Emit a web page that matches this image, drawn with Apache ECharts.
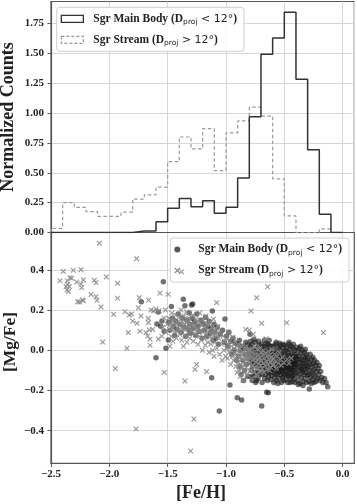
<!DOCTYPE html>
<html><head><meta charset="utf-8">
<script src="https://cdn.jsdelivr.net/npm/echarts@6/dist/echarts.min.js"></script>
<style>html,body{margin:0;padding:0;background:#fff}#c{width:357px;height:504px}</style>
</head><body><div id="c"></div>
<script>
// ---------- data ----------
const binEdges = [-2.5,-2.4,-2.3,-2.2,-2.1,-2.0,-1.9,-1.8,-1.7,-1.6,-1.5,-1.4,-1.3,-1.2,-1.1,-1.0,-0.9,-0.8,-0.7,-0.6,-0.5,-0.4,-0.3,-0.2,-0.1,0.0];
const mainBodyCounts = [0,0,0,0,0,0,0,0.012,0.012,0.09,0.204,0.285,0.215,0.265,0.161,0.212,0.456,0.97,1.494,1.629,1.845,1.284,0.694,0.153,0.0];
const streamCounts = [0.035,0.25,0.21,0.175,0.135,0.135,0.17,0.28,0.316,0.38,0.593,0.80,0.70,0.87,0.518,0.835,0.935,1.05,0.975,0.45,0.139,0,0,0.03,0];
const xTicks = [-2.5,-2.0,-1.5,-1.0,-0.5,0.0];
const histYTicks = [0,0.25,0.5,0.75,1.0,1.25,1.5,1.75];
const scatterYTicks = [-0.4,-0.2,0.0,0.2,0.4];
const legendMain = 'Sgr Main Body';
const legendStream = 'Sgr Stream';

const streamStars = [
[-2.423,0.346],[-2.394,0.393],[-2.371,0.317],[-2.363,0.30],[-2.357,0.328],[-2.343,0.317],[-2.337,0.361],[-2.351,0.292],[-2.36,0.345],[-2.323,0.358],
[-2.309,0.398],[-2.28,0.34],[-2.271,0.242],[-2.257,0.24],[-2.243,0.401],[-2.243,0.33],[-2.237,0.312],[-2.223,0.35],[-2.23,0.25],[-2.223,0.247],
[-2.157,0.278],[-2.129,0.348],[-2.114,0.337],[-2.114,0.267],[-2.106,0.249],[-2.086,0.532],[-2.071,0.216],[-2.057,0.041],[-2.026,0.365],
[-1.963,0.179],[-1.949,-0.091],[-1.929,0.333],[-1.929,0.259],[-1.866,0.192],
[-1.849,0.010],[-1.837,0.088],[-1.829,0.176],[-1.81,0.18],[-1.80,0.146],[-1.771,-0.390],[-1.766,0.456],[-1.763,0.134],[-1.751,0.212],[-1.743,0.262],
[-1.737,0.095],[-1.729,0.171],[-1.686,0.088],[-1.671,0.071],[-1.666,0.159],[-1.666,0.138],[-1.663,0.249],[-1.657,0.101],[-1.651,0.055],[-1.651,0.025],
[-1.643,0.20],[-1.629,0.104],[-1.62,0.195],[-1.60,0.205],[-1.566,0.284],[-1.58,0.056],[-1.572,0.197],[-1.55,0.07],[-1.529,-0.11],[-1.54,0.115],
[-1.53,0.16],[-1.52,0.2],[-1.515,0.09],[-1.505,0.13],
[-1.495,0.279],[-1.49,0.16],[-1.485,0.105],[-1.48,0.02],[-1.475,0.13],[-1.47,0.07],[-1.465,0.185],[-1.46,0.11],[-1.455,0.045],[-1.45,0.15],
[-1.44,0.09],[-1.435,0.12],[-1.43,0.175],[-1.425,0.06],[-1.415,0.14],[-1.405,0.1],
[-1.398,0.165],[-1.395,0.08],[-1.39,0.125],[-1.385,0.2],[-1.38,0.391],[-1.38,0.05],[-1.375,0.145],[-1.37,0.105],[-1.365,0.02],[-1.36,0.17],
[-1.355,0.13],[-1.352,-0.153],[-1.35,0.075],[-1.345,0.11],[-1.34,0.19],[-1.335,0.04],[-1.33,0.14],[-1.325,0.09],[-1.32,0.16],[-1.315,0.115],
[-1.31,0.06],[-1.303,-0.501],
[-1.298,0.13],[-1.29,0.095],[-1.285,0.175],[-1.28,0.045],[-1.275,-0.342],[-1.27,0.12],[-1.266,-0.095],[-1.262,0.08],[-1.255,0.155],[-1.252,-0.07],
[-1.248,0.105],[-1.24,0.03],[-1.235,0.14],[-1.23,0.07],[-1.225,0.185],[-1.218,0.1],[-1.212,0.05],[-1.207,0.125],[-1.202,0.0],
[-1.198,0.09],[-1.193,0.15],[-1.188,0.06],[-1.183,0.115],[-1.178,0.025],[-1.172,0.17],[-1.168,0.08],[-1.166,-0.106],[-1.16,0.13],[-1.155,0.04],
[-1.15,0.1],[-1.145,-0.01],[-1.14,0.065],[-1.135,0.14],[-1.13,0.03],[-1.125,0.09],[-1.12,0.115],[-1.115,0.0],[-1.11,0.055],[-1.107,0.155],
[-1.104,0.075],[-1.102,-0.03],[-1.1,0.1],
[-1.095,0.04],[-1.09,0.08],[-1.08,0.237],[-1.078,0.01],[-1.07,0.12],[-1.063,0.06],[-1.055,-0.02],[-1.048,0.09],[-1.04,0.03],[-1.033,-0.05],
[-1.025,0.07],[-1.018,0.0],[-1.01,0.045],[-1.003,-0.03],
[-0.998,0.06],[-0.993,0.01],[-0.988,-0.04],[-0.982,0.03],[-0.977,0.085],[-0.972,-0.01],[-0.966,0.045],[-0.96,-0.07],[-0.955,0.0],[-0.95,0.02],
[-0.945,-0.03],[-0.94,0.065],[-0.935,-0.05],[-0.93,0.01],[-0.925,-0.015],[-0.92,0.04],[-0.915,-0.08],[-0.91,-0.02],[-0.905,0.02],[-0.903,-0.11],
[-0.902,-0.045],[-0.9,0.0],
[-0.897,-0.06],[-0.893,0.03],[-0.89,-0.1],[-0.886,-0.03],[-0.882,0.005],[-0.878,-0.13],[-0.874,-0.07],[-0.87,-0.02],[-0.866,0.02],[-0.862,-0.09],
[-0.858,-0.045],[-0.854,-0.15],[-0.85,-0.01],[-0.846,-0.07],[-0.842,-0.11],[-0.838,0.015],[-0.834,-0.04],[-0.829,0.104],[-0.826,-0.085],[-0.822,-0.02],
[-0.818,-0.12],[-0.814,-0.055],[-0.81,0.0],[-0.806,-0.035],[-0.80,0.101],
[-0.797,-0.06],[-0.794,0.0],[-0.79,-0.1],[-0.786,0.196],[-0.783,-0.03],[-0.78,-0.14],[-0.776,-0.075],[-0.772,-0.01],[-0.768,-0.05],[-0.766,0.08],
[-0.762,-0.11],[-0.758,0.02],[-0.754,-0.04],[-0.75,-0.085],[-0.746,-0.02],[-0.742,-0.06],[-0.737,0.262],[-0.735,-0.12],[-0.732,0.005],[-0.728,-0.045],
[-0.724,-0.09],[-0.72,-0.025],[-0.716,-0.065],[-0.712,0.01],[-0.708,-0.105],[-0.705,-0.04],[-0.702,-0.075],[-0.70,-0.01],
[-0.697,-0.05],[-0.694,0.134],[-0.69,-0.09],[-0.686,-0.02],[-0.682,-0.065],[-0.678,0.0],[-0.674,-0.11],[-0.67,-0.04],[-0.666,-0.075],[-0.662,-0.015],
[-0.657,0.058],[-0.654,-0.055],[-0.65,-0.095],[-0.646,-0.03],[-0.643,0.316],[-0.64,-0.07],[-0.636,-0.005],[-0.632,-0.045],[-0.628,-0.1],[-0.624,-0.025],
[-0.62,-0.06],[-0.616,-0.085],[-0.612,-0.035],[-0.608,0.005],[-0.604,-0.05],[-0.60,-0.075],
[-0.595,-0.04],[-0.59,-0.07],[-0.583,-0.02],[-0.576,-0.055],[-0.568,-0.09],[-0.56,-0.03],[-0.552,-0.065],[-0.544,-0.01],[-0.536,-0.045],[-0.525,-0.075],
[-0.515,-0.035],[-0.505,-0.06],
[-0.48,0.137],[-0.475,-0.045],[-0.46,-0.065],[-0.44,-0.04],
[-0.165,0.088]
];

const mainBodyStars = [
[-1.726,0.241],[-1.60,-0.037],[-1.592,0.131],[-1.58,0.191],[-1.56,0.12],[-1.549,0.146],[-1.537,0.341],[-1.53,0.095],[-1.515,0.01],
[-1.494,0.051],[-1.468,0.218],[-1.49,0.14],[-1.48,0.1],[-1.46,0.16],[-1.45,0.12],[-1.44,0.075],[-1.43,0.145],[-1.42,0.105],[-1.41,0.18],
[-1.395,0.13],[-1.385,0.09],[-1.375,0.16],[-1.366,0.254],[-1.36,0.115],[-1.352,0.222],[-1.345,0.07],[-1.335,0.15],[-1.325,0.105],[-1.315,0.185],
[-1.31,0.13],[-1.305,0.085],
[-1.295,0.225],[-1.286,0.23],[-1.29,0.16],[-1.28,0.11],[-1.27,0.14],[-1.26,0.075],[-1.25,0.18],[-1.24,0.12],[-1.23,0.095],[-1.215,0.15],[-1.205,0.06],
[-1.195,0.13],[-1.185,0.1],[-1.175,0.165],[-1.165,0.07],[-1.155,0.12],[-1.145,0.145],[-1.135,0.085],[-1.123,-0.136],[-1.125,0.11],[-1.117,0.195],
[-1.11,0.05],[-1.102,0.13],
[-1.095,0.09],[-1.085,0.06],[-1.075,0.115],[-1.065,0.03],[-1.057,-0.302],[-1.05,0.08],[-1.03,0.1],[-1.009,0.156],[-1.015,0.04],
[-0.995,0.07],[-0.985,0.02],[-0.975,0.09],[-0.966,-0.173],[-0.96,0.045],[-0.95,-0.02],[-0.94,0.06],[-0.93,0.0],[-0.92,0.035],[-0.91,-0.05],
[-0.903,-0.236],[-0.895,0.03],[-0.89,-0.03],[-0.885,0.05],[-0.88,-0.08],[-0.875,0.0],[-0.87,-0.12],[-0.866,-0.247],[-0.862,0.02],[-0.855,-0.05],
[-0.85,-0.15],[-0.845,0.01],[-0.84,-0.1],[-0.835,-0.02],[-0.83,0.04],[-0.825,-0.07],[-0.817,0.026],[-0.815,-0.13],[-0.81,-0.04],[-0.805,0.0],
[-0.798,-0.02],[-0.794,0.08],[-0.79,-0.06],[-0.787,0.02],[-0.783,-0.1],[-0.78,-0.04],[-0.776,0.03],[-0.772,-0.08],[-0.768,-0.13],[-0.766,-0.024],
[-0.762,0.0],[-0.758,-0.055],[-0.754,-0.11],[-0.75,0.04],[-0.746,-0.03],[-0.742,-0.075],[-0.738,-0.15],[-0.734,0.01],[-0.73,-0.045],[-0.726,-0.095],
[-0.722,-0.02],[-0.718,0.025],[-0.714,-0.065],[-0.71,-0.12],[-0.707,-0.035],[-0.704,0.0],[-0.701,-0.085],[-0.745,-0.16],[-0.775,-0.15],[-0.79,0.045],
[-0.76,0.055],[-0.72,0.045],[-0.735,-0.06],[-0.755,-0.01],[-0.715,-0.005],[-0.785,-0.13],[-0.77,-0.055],[-0.74,-0.115],[-0.725,-0.14],[-0.705,-0.055],
[-0.694,-0.277],[-0.698,-0.03],[-0.695,0.03],[-0.692,-0.08],[-0.689,-0.12],[-0.686,0.0],[-0.683,-0.05],[-0.68,-0.1],[-0.677,0.02],[-0.674,-0.025],
[-0.671,-0.07],[-0.668,-0.14],[-0.665,-0.005],[-0.662,-0.045],[-0.659,-0.09],[-0.656,0.035],[-0.653,-0.015],[-0.651,-0.209],[-0.65,-0.06],[-0.647,-0.11],
[-0.644,0.01],[-0.641,-0.035],[-0.638,-0.08],[-0.637,-0.211],[-0.635,-0.13],[-0.632,0.025],[-0.629,-0.02],[-0.626,-0.065],[-0.623,-0.1],[-0.62,0.0],
[-0.617,-0.04],[-0.614,-0.085],[-0.611,-0.125],[-0.608,0.02],[-0.605,-0.055],[-0.602,-0.015],[-0.69,-0.16],[-0.67,0.05],[-0.66,-0.12],[-0.645,-0.15],
[-0.63,0.05],[-0.615,-0.145],[-0.675,-0.045],[-0.655,0.0],[-0.64,-0.1],[-0.625,-0.03],[-0.61,-0.07],[-0.685,-0.065],[-0.665,-0.085],[-0.62,-0.11],
[-0.6,-0.095],[-0.635,-0.05],[-0.68,0.015],[-0.64,0.03],[-0.66,-0.03],
[-0.598,-0.03],[-0.596,0.02],[-0.594,-0.07],[-0.592,-0.11],[-0.59,-0.045],[-0.588,0.0],[-0.585,-0.09],[-0.583,-0.135],[-0.58,-0.02],[-0.578,-0.06],
[-0.575,0.03],[-0.573,-0.1],[-0.57,-0.04],[-0.568,-0.15],[-0.565,-0.075],[-0.562,-0.01],[-0.56,-0.12],[-0.557,-0.05],[-0.555,0.015],[-0.552,-0.09],
[-0.55,-0.03],[-0.547,-0.065],[-0.545,-0.14],[-0.542,0.005],[-0.54,-0.105],[-0.537,-0.04],[-0.535,-0.08],[-0.532,0.025],[-0.53,-0.015],[-0.527,-0.125],
[-0.525,-0.055],[-0.522,-0.095],[-0.52,-0.03],[-0.517,0.01],[-0.515,-0.07],[-0.512,-0.11],[-0.51,-0.045],[-0.507,-0.15],[-0.505,-0.005],[-0.502,-0.085],
[-0.59,-0.16],[-0.57,0.04],[-0.555,-0.165],[-0.54,0.035],[-0.525,-0.16],[-0.51,0.03],[-0.58,-0.055],[-0.565,-0.025],[-0.55,-0.11],[-0.535,-0.06],
[-0.52,-0.085],[-0.505,-0.12],[-0.595,-0.09],[-0.575,-0.12],[-0.56,-0.065],[-0.545,-0.02],[-0.53,-0.1],[-0.515,-0.135],[-0.5,-0.05],[-0.585,-0.03],
[-0.498,-0.02],[-0.496,0.025],[-0.494,-0.065],[-0.492,-0.105],[-0.49,-0.04],[-0.488,-0.145],[-0.486,0.0],[-0.484,-0.08],[-0.482,-0.12],[-0.48,-0.03],
[-0.478,0.015],[-0.476,-0.06],[-0.474,-0.1],[-0.472,-0.16],[-0.47,-0.045],[-0.468,-0.01],[-0.466,-0.085],[-0.464,-0.13],[-0.462,0.03],[-0.46,-0.07],
[-0.458,-0.025],[-0.456,-0.11],[-0.454,-0.05],[-0.452,0.005],[-0.45,-0.095],[-0.448,-0.14],[-0.446,-0.035],[-0.444,-0.075],[-0.442,0.02],[-0.44,-0.115],
[-0.438,-0.055],[-0.436,-0.015],[-0.434,-0.09],[-0.432,-0.155],[-0.43,-0.04],[-0.428,-0.07],[-0.426,0.01],[-0.424,-0.125],[-0.423,0.03],[-0.42,-0.06],
[-0.418,-0.1],[-0.416,-0.02],[-0.414,-0.08],[-0.412,-0.14],[-0.41,-0.045],[-0.408,0.0],[-0.406,-0.11],[-0.404,-0.065],[-0.402,-0.03],[-0.4,-0.09],
[-0.485,-0.05],[-0.465,-0.055],[-0.445,-0.06],[-0.425,-0.05],[-0.405,-0.05],[-0.475,-0.08],[-0.455,-0.085],[-0.435,-0.1],[-0.415,-0.07],[-0.495,-0.09],
[-0.47,-0.125],[-0.45,-0.16],[-0.43,-0.13],[-0.41,-0.16],[-0.46,0.04],
[-0.398,-0.03],[-0.395,0.015],[-0.393,-0.07],[-0.39,-0.115],[-0.388,-0.045],[-0.385,-0.15],[-0.383,-0.005],[-0.38,-0.085],[-0.378,-0.125],[-0.375,-0.03],
[-0.373,-0.06],[-0.37,0.01],[-0.368,-0.1],[-0.365,-0.165],[-0.363,-0.045],[-0.36,-0.075],[-0.358,-0.015],[-0.355,-0.135],[-0.353,-0.09],[-0.35,-0.05],
[-0.348,0.0],[-0.345,-0.11],[-0.343,-0.065],[-0.34,-0.155],[-0.338,-0.03],[-0.335,-0.08],[-0.333,-0.12],[-0.33,-0.05],[-0.328,-0.01],[-0.325,-0.095],
[-0.323,-0.14],[-0.32,-0.065],[-0.318,-0.035],[-0.315,-0.11],[-0.313,-0.075],[-0.31,-0.16],[-0.308,-0.02],[-0.305,-0.09],[-0.303,-0.05],[-0.3,-0.125],
[-0.38,-0.17],[-0.36,0.02],[-0.34,-0.175],[-0.32,0.005],[-0.35,-0.1],
[-0.298,-0.04],[-0.295,-0.08],[-0.292,-0.12],[-0.289,-0.155],[-0.286,-0.193],[-0.285,-0.06],[-0.282,-0.1],[-0.279,-0.02],[-0.276,-0.135],[-0.273,-0.07],
[-0.27,-0.165],[-0.267,-0.045],[-0.264,-0.11],[-0.261,-0.085],[-0.258,-0.145],[-0.255,-0.035],[-0.252,-0.12],[-0.249,-0.065],[-0.246,-0.16],[-0.243,-0.095],
[-0.24,-0.05],[-0.236,-0.13],[-0.232,-0.075],[-0.228,-0.155],[-0.224,-0.105],[-0.22,-0.06],[-0.215,-0.14],[-0.21,-0.09],
[-0.205,-0.12],[-0.2,-0.075],[-0.195,-0.15],[-0.188,-0.105],[-0.18,-0.135],[-0.17,-0.16],[-0.155,-0.14],[-0.142,-0.16],[-0.128,-0.181]
];

// ---------- helpers ----------
function stepPoints(edges, counts) {
  const pts = [[edges[0], 0]];
  for (let i = 0; i < counts.length; i++) pts.push([edges[i], counts[i]]);
  pts.push([edges[edges.length - 1], 0]);
  return pts;
}
const minus = s => s.replace('-', '\u2212');
const SERIF = 'Liberation Serif';
const tickFont = {fontFamily: SERIF, fontWeight: 'bold', fontSize: 11, color: '#222'};
const gridLine = {show: true, lineStyle: {color: '#d6d6d6', width: 1}};
const spine = {show: true, onZero: false, lineStyle: {color: '#555', width: 1.2}};
const crossPath = 'path://M1.5,0L5,3.5L8.5,0L10,1.5L6.5,5L10,8.5L8.5,10L5,6.5L1.5,10L0,8.5L3.5,5L0,1.5Z';
const richLegend = {
  b: {fontFamily: SERIF, fontWeight: 'bold', fontSize: 11.5, color: '#222', lineHeight: 15},
  p: {fontFamily: SERIF, fontWeight: 'bold', fontSize: 11.5, color: '#222', lineHeight: 15, padding: [0,0,0,5]},
  s: {fontFamily: 'DejaVu Sans', fontSize: 7.5, color: '#222', lineHeight: 8, padding: [7,0,0,0]},
  m: {fontFamily: 'DejaVu Sans', fontSize: 11, color: '#222', lineHeight: 15}
};
function legendLabel(name) {
  const main = name.indexOf(legendMain) === 0;
  const base = main ? legendMain : legendStream;
  const rel = main ? ' < 12°' : ' > 12°';
  return '{p|' + base + ' (D}{s|proj}{m|' + rel + '}{b|)}';
}

const chart = echarts.init(document.getElementById('c'), null, {renderer: 'canvas'});
chart.setOption({
  animation: false,
  backgroundColor: '#fff',
  grid: [
    {left: 51, right: 2.7, top: 1.5, height: 231, show: true, borderColor: '#555', borderWidth: 1.2, containLabel: false},
    {left: 51, right: 2.7, top: 232.5, height: 230.8, show: true, borderColor: '#555', borderWidth: 1.2, containLabel: false}
  ],
  xAxis: [
    {gridIndex: 0, type: 'value', min: -2.5, max: 0.1, interval: 0.5,
     axisLine: spine, axisTick: {show: false}, axisLabel: {show: false}, splitLine: gridLine},
    {gridIndex: 1, type: 'value', min: -2.5, max: 0.1, interval: 0.5,
     axisLine: spine,
     axisTick: {show: true, inside: false, length: 3.5, lineStyle: {color: '#555', width: 1}, customValues: xTicks},
     axisLabel: Object.assign({margin: 5, customValues: xTicks, formatter: v => minus(v.toFixed(1))}, tickFont),
     splitLine: gridLine}
  ],
  yAxis: [
    {gridIndex: 0, type: 'value', min: 0, max: 1.935, interval: 0.25,
     axisLine: spine,
     axisTick: {show: true, length: 3.5, lineStyle: {color: '#555', width: 1}, customValues: histYTicks},
     axisLabel: Object.assign({margin: 7, customValues: histYTicks, formatter: v => v.toFixed(2)}, tickFont),
     splitLine: gridLine},
    {gridIndex: 1, type: 'value', min: -0.562, max: 0.586, splitNumber: 5,
     axisLine: spine,
     axisTick: {show: true, length: 3.5, lineStyle: {color: '#555', width: 1}, customValues: scatterYTicks},
     axisLabel: Object.assign({margin: 7, customValues: scatterYTicks, formatter: v => minus(v.toFixed(1))}, tickFont),
     splitLine: gridLine}
  ],
  legend: [
    {orient: 'vertical', left: 56.7, top: 7.3, itemWidth: 22, itemHeight: 7, itemGap: 6,
     padding: [4, 7, 4, 4], backgroundColor: 'rgba(255,255,255,0.85)', borderColor: '#cfcfcf', borderWidth: 1, borderRadius: 3,
     formatter: legendLabel, textStyle: {rich: richLegend},
     data: [
       {name: legendMain + ' hist', icon: 'rect', itemStyle: {color: 'rgba(0,0,0,0)', borderColor: '#333', borderWidth: 1.3}},
       {name: legendStream + ' hist', icon: 'rect', itemStyle: {color: 'rgba(0,0,0,0)', borderColor: '#999', borderWidth: 1.2, borderType: [3, 2]}}
     ]},
    {orient: 'vertical', right: 8, top: 238, itemWidth: 22, itemHeight: 6, itemGap: 6,
     padding: [4, 7, 4, 4], backgroundColor: 'rgba(255,255,255,0.85)', borderColor: '#cfcfcf', borderWidth: 1, borderRadius: 3,
     formatter: legendLabel, textStyle: {rich: richLegend},
     data: [
       {name: legendMain + ' stars', icon: 'circle', itemStyle: {color: '#555', opacity: 1}},
       {name: legendStream + ' stars', icon: crossPath, itemStyle: {color: '#8f8f8f', opacity: 1}}
     ]}
  ],
  series: [
    {name: legendStream + ' hist', type: 'line', xAxisIndex: 0, yAxisIndex: 0, step: 'end', symbol: 'none',
     data: stepPoints(binEdges, streamCounts), lineStyle: {color: '#9a9a9a', width: 1.2, type: [3.5, 2.5]}, itemStyle: {color: '#9a9a9a'}, z: 3},
    {name: legendMain + ' hist', type: 'line', xAxisIndex: 0, yAxisIndex: 0, step: 'end', symbol: 'none',
     data: stepPoints(binEdges, mainBodyCounts), lineStyle: {color: '#333', width: 1.5}, itemStyle: {color: '#333'}, z: 4},
    {name: legendMain + ' stars', type: 'scatter', xAxisIndex: 1, yAxisIndex: 1, symbol: 'circle', symbolSize: 5.5,
     data: mainBodyStars, itemStyle: {color: '#1a1a1a', opacity: 0.62}, clip: true, z: 3},
    {name: legendStream + ' stars', type: 'scatter', xAxisIndex: 1, yAxisIndex: 1, symbol: crossPath, symbolSize: 5.5,
     data: streamStars, itemStyle: {color: '#8a8a8a', opacity: 0.85}, clip: true, z: 4}
  ],
  graphic: [
    {type: 'text', x: 8, y: 117, rotation: Math.PI / 2,
     style: {text: 'Normalized Counts', font: 'bold 18px "Liberation Serif"', fill: '#222', align: 'center', verticalAlign: 'middle'}},
    {type: 'text', x: 10, y: 342, rotation: Math.PI / 2,
     style: {text: '[Mg/Fe]', font: 'bold 17.5px "Liberation Serif"', fill: '#222', align: 'center', verticalAlign: 'middle'}},
    {type: 'text', x: 201, y: 493,
     style: {text: '[Fe/H]', font: 'bold 18px "Liberation Serif"', fill: '#222', align: 'center', verticalAlign: 'middle'}}
  ]
});
</script></body></html>
